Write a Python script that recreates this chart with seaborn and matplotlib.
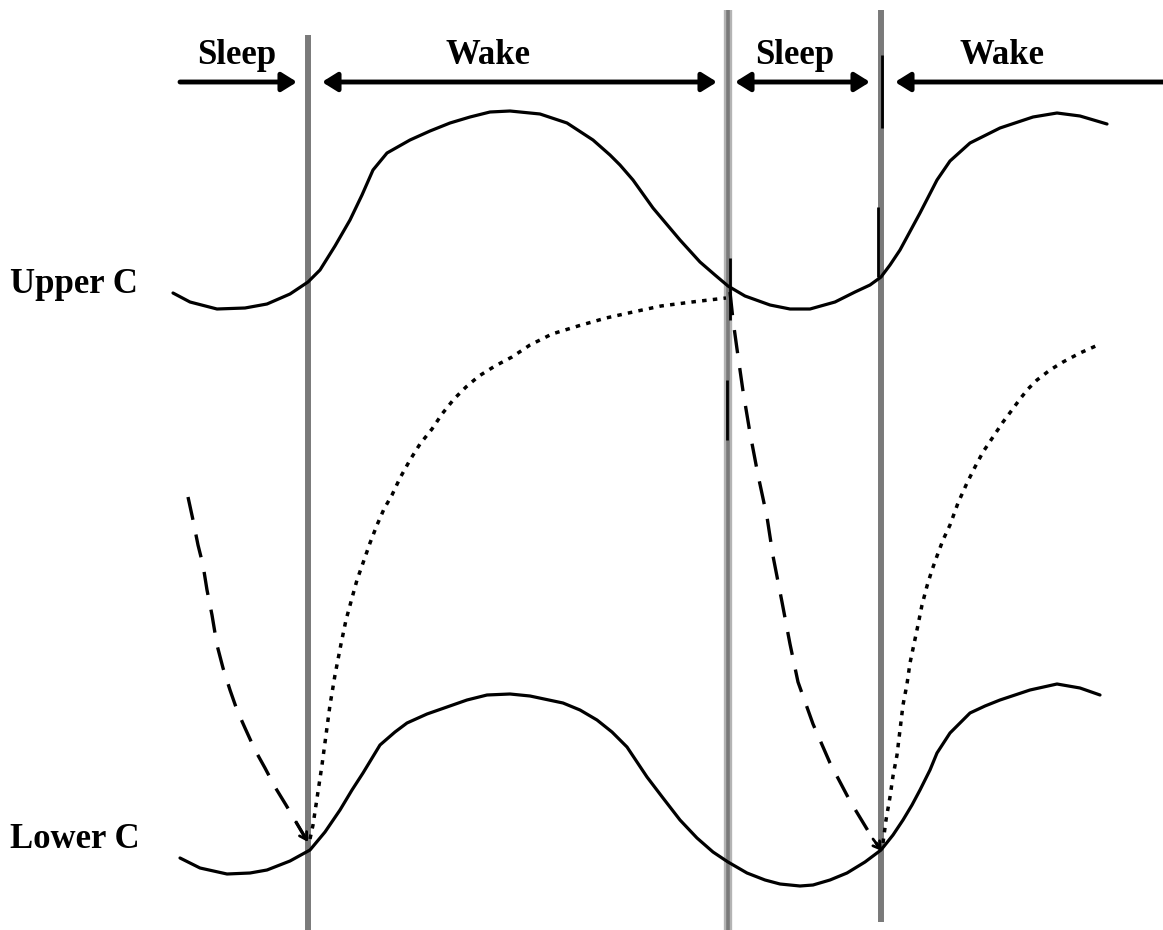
import seaborn as sns
import matplotlib.pyplot as plt
import pandas as pd

# curve points (x, y in picture pixels, y grows downward)
upper_x = [173, 190, 217, 245, 267, 290, 308, 320, 335, 350, 362, 373, 387, 410, 430, 450, 470, 490, 510,
           540, 567, 593, 610, 620, 633, 653, 680, 700, 715, 728, 745, 770, 790, 810, 835, 855, 870, 881,
           890, 900, 920, 937, 950, 970, 1000, 1033, 1057, 1080, 1107]
upper_y = [293, 302, 309, 308, 304, 294, 282, 270, 246, 220, 195, 170, 153, 140, 131, 123, 117, 112, 111,
           114, 123, 140, 155, 165, 180, 208, 240, 262, 275, 286, 296, 305, 309, 309, 302, 292, 285, 277,
           265, 250, 213, 180, 161, 143, 128, 117, 113, 116, 124]

lower_x = [180, 200, 227, 250, 267, 290, 310, 325, 340, 352, 363, 380, 395, 407, 427, 447, 467, 487, 510,
           530, 563, 580, 597, 612, 627, 637, 647, 663, 680, 697, 713, 728, 747, 765, 780, 800, 813, 830,
           847, 865, 881, 893, 903, 912, 920, 930, 937, 950, 970, 985, 1000, 1030, 1057, 1080, 1100]
lower_y = [858, 868, 874, 873, 870, 861, 850, 832, 810, 790, 773, 745, 732, 723, 714, 707, 700, 695, 694,
           696, 703, 710, 720, 732, 747, 762, 777, 798, 820, 838, 852, 862, 873, 880, 884, 886, 885, 880,
           873, 862, 850, 835, 820, 805, 790, 770, 753, 733, 713, 706, 700, 690, 684, 688, 695]

rise1_x = [310, 313, 316, 319, 322, 326, 330, 335, 341, 346, 352, 357, 363, 370, 377, 384, 392, 400, 410,
           420, 432, 442, 454, 466, 479, 495, 512, 530, 552, 578, 606, 633, 661, 692, 726]
rise1_y = [839, 825, 805, 785, 765, 735, 705, 675, 644, 620, 598, 580, 563, 543, 525, 509, 495, 478, 460,
           444, 429, 414, 399, 387, 376, 366, 357, 345, 334, 326, 318, 312, 306, 302, 298]

rise2_x = [883, 886, 890, 893, 897, 900, 903, 907, 910, 914, 918, 922, 927, 932, 937, 943, 950, 958, 967,
           975, 983, 993, 1003, 1012, 1020, 1028, 1037, 1050, 1063, 1080, 1098]
rise2_y = [843, 820, 797, 776, 755, 730, 705, 684, 663, 644, 625, 605, 586, 570, 556, 540, 525, 503, 483,
           467, 452, 437, 422, 410, 399, 389, 380, 370, 362, 353, 345]

decay1_x = [188, 193, 198, 203, 207, 212, 217, 223, 230, 237, 245, 255, 265, 275, 286, 296, 306]
decay1_y = [497, 520, 545, 565, 590, 615, 645, 668, 690, 710, 728, 750, 768, 787, 805, 822, 839]

decay2_x = [730, 733, 737, 743, 750, 758, 767, 773, 782, 790, 798, 813, 830, 850, 873, 880]
decay2_y = [292, 320, 349, 391, 433, 475, 517, 556, 602, 644, 682, 724, 763, 801, 839, 848]

# sleep/wake transitions
trans_x = [308, 728, 881]
trans_top = [35, 10, 10]
trans_bottom = [930, 930, 922]

# top arrows: start, end, double headed
arrow_start = [180, 322, 735, 1163]
arrow_end = [297, 717, 870, 895]
arrow_double = [False, True, True, False]
phase_labels = ["Sleep", "Wake", "Sleep", "Wake"]
label_x = [237, 488, 795, 1002]

level_labels = ["Upper C", "Lower C"]
level_y = [293, 848]

sns.set_style("white")
plt.rcParams['font.family'] = ['Liberation Serif', 'DejaVu Serif']

fig = plt.figure(figsize=(11.63, 9.3), dpi=100)
ax = fig.add_axes([0, 0, 1, 1])

# grey transition lines
ax.vlines(trans_x[1], trans_top[1], trans_bottom[1], color="#b4b4b4", lw=6, zorder=1)
ax.vlines(trans_x, trans_top, trans_bottom, color="#7a7a7a", lw=[4.3, 2.6, 4.3], zorder=2)
# black bits on the lines
ax.vlines([882, 878, 730, 727], [55, 207, 258, 380], [128, 277, 320, 440], color="black", lw=2, zorder=3)

def curve(xs, ys, **kw):
    df = pd.DataFrame({"x": xs, "y": ys})
    sns.lineplot(data=df, x="x", y="y", sort=False, estimator=None, color="black", ax=ax, zorder=4,
                 solid_joinstyle="round", **kw)

curve(upper_x, upper_y, lw=2.3)
curve(lower_x, lower_y, lw=2.3)
curve(rise1_x, rise1_y, lw=2.5, dashes=(1.3, 1.8))
curve(rise2_x, rise2_y, lw=2.5, dashes=(1.3, 1.8))
curve(decay1_x, decay1_y, lw=2.4, dashes=(7, 4.5))
curve(decay2_x, decay2_y, lw=2.4, dashes=(7, 4.5))

# small arrow heads where the decay meets the lower curve
for xs, ys in [(decay1_x, decay1_y), (decay2_x, decay2_y)]:
    ax.annotate("", xy=(xs[-1] + 2, ys[-1] + 3), xytext=(xs[-2], ys[-2]),
                arrowprops=dict(arrowstyle="->,head_length=0.5,head_width=0.3", lw=2, color="black",
                                shrinkA=0, shrinkB=0), zorder=5)

for x0, x1, dbl, lab, lx in zip(arrow_start, arrow_end, arrow_double, phase_labels, label_x):
    style = "<|-|>" if dbl else "-|>"
    ax.annotate("", xy=(x1, 82), xytext=(x0, 82),
                arrowprops=dict(arrowstyle=style + ",head_length=0.45,head_width=0.28", lw=3.5,
                                color="black", shrinkA=0, shrinkB=0, mutation_scale=20))
    ax.text(lx, 64, lab, ha="center", va="baseline", fontsize=25, fontweight="bold", color="black")

for lab, ly in zip(level_labels, level_y):
    ax.text(10, ly, lab, ha="left", va="baseline", fontsize=25, fontweight="bold", color="black")

ax.set_xlim(0, 1163)
ax.set_ylim(930, 0)
ax.axis("off")

fig.savefig("out.png", dpi=100, facecolor="white")
